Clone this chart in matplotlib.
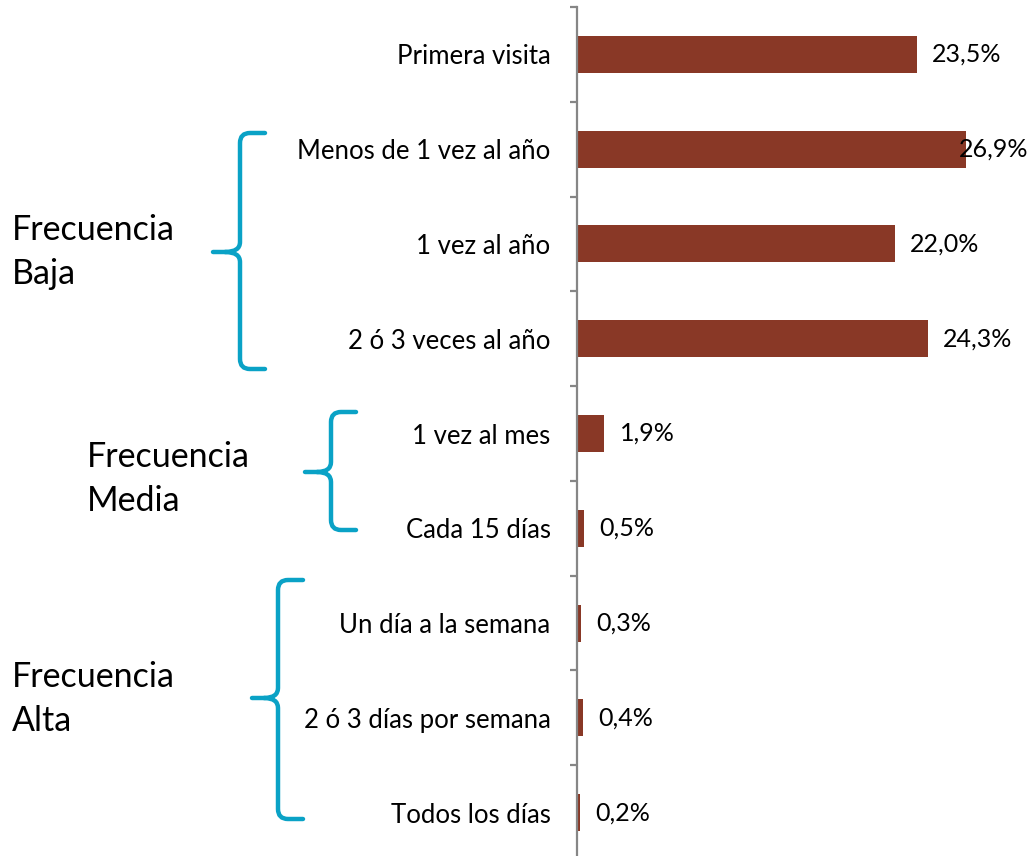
import matplotlib
matplotlib.use("Agg")
import matplotlib.pyplot as plt
from matplotlib.path import Path
from matplotlib.patches import PathPatch

categorias = ["Primera visita", "Menos de 1 vez al año", "1 vez al año",
              "2 ó 3 veces al año", "1 vez al mes", "Cada 15 días",
              "Un día a la semana", "2 ó 3 días por semana", "Todos los días"]
porcentajes = [23.5, 26.9, 22.0, 24.3, 1.9, 0.5, 0.3, 0.4, 0.2]
etiquetas = ["23,5%", "26,9%", "22,0%", "24,3%", "1,9%", "0,5%", "0,3%", "0,4%", "0,2%"]

# grupos: (texto, posición del texto, llave: x vertical, x extremos, x punta, y arriba, y punta, y abajo)
grupos = [
    ("Frecuencia\nBaja", (12, 252), (240, 265, 213, 133, 252, 369)),
    ("Frecuencia\nMedia", (87, 479), (331, 356, 305, 412, 472, 530)),
    ("Frecuencia\nAlta", (12, 699), (278, 303, 252, 580, 698, 819)),
]

plt.rcParams['font.family'] = ['Lato', 'DejaVu Sans']
color_barra = '#893826'
color_llave = '#0AA2C6'
gris = '#868686'

W, H = 1033, 856
fig = plt.figure(figsize=(W / 100, H / 100), dpi=100)

x0, x1 = 577, 1028
y0, y1 = 7, 860
ax = fig.add_axes([x0 / W, 1 - y1 / H, (x1 - x0) / W, (y1 - y0) / H])

y = range(len(categorias))
ax.barh(y, porcentajes, height=0.39, color=color_barra)
xmax = 31.2
ax.set_xlim(0, xmax)
ax.set_ylim(len(categorias) - 0.5, -0.5)

for i, (v, t) in enumerate(zip(porcentajes, etiquetas)):
    if v + 1.0 + 4.6 > xmax:
        ax.text(xmax, i, t, ha='right', va='center', fontsize=18)
    else:
        ax.annotate(t, (v, i), xytext=(15, 0), textcoords='offset pixels',
                    ha='left', va='center', fontsize=18)

for s in ['top', 'right', 'bottom']:
    ax.spines[s].set_visible(False)
ax.spines['left'].set_color(gris)
ax.spines['left'].set_linewidth(1.6)
ax.set_xticks([])
ax.set_yticks(list(y))
ax.set_yticklabels(categorias, fontsize=18.5)
ax.set_yticks([i - 0.5 for i in range(len(categorias) + 1)], minor=True)
ax.tick_params(axis='y', which='major', length=0, pad=19)
ax.tick_params(axis='y', which='minor', length=5, width=1.6, color=gris)

# capa superpuesta en píxeles para las llaves y los textos de grupo
over = fig.add_axes([0, 0, 1, 1])
over.set_xlim(0, W)
over.set_ylim(H, 0)
over.axis('off')

def llave(xv, xe, xp, ya, ym, yb, r=10):
    verts = [
        (xe, ya), (xv + r, ya), (xv, ya), (xv, ya + r),
        (xv, ym - r), (xv, ym), (xp + 12, ym), (xp, ym),
        (xp + 12, ym), (xv, ym), (xv, ym + r),
        (xv, yb - r), (xv, yb), (xv + r, yb), (xe, yb),
    ]
    codes = [Path.MOVETO, Path.LINETO, Path.CURVE3, Path.CURVE3,
             Path.LINETO, Path.CURVE3, Path.CURVE3, Path.LINETO,
             Path.MOVETO, Path.CURVE3, Path.CURVE3,
             Path.LINETO, Path.CURVE3, Path.CURVE3, Path.LINETO]
    return PathPatch(Path(verts, codes), fill=False, edgecolor=color_llave,
                     linewidth=3.2, capstyle='round', joinstyle='round')

for texto, (tx, ty), (xv, xe, xp, ya, ym, yb) in grupos:
    over.add_patch(llave(xv, xe, xp, ya, ym, yb))
    over.text(tx, ty, texto, ha='left', va='center', fontsize=24.5, linespacing=1.45)

fig.savefig("out.png", dpi=100)
